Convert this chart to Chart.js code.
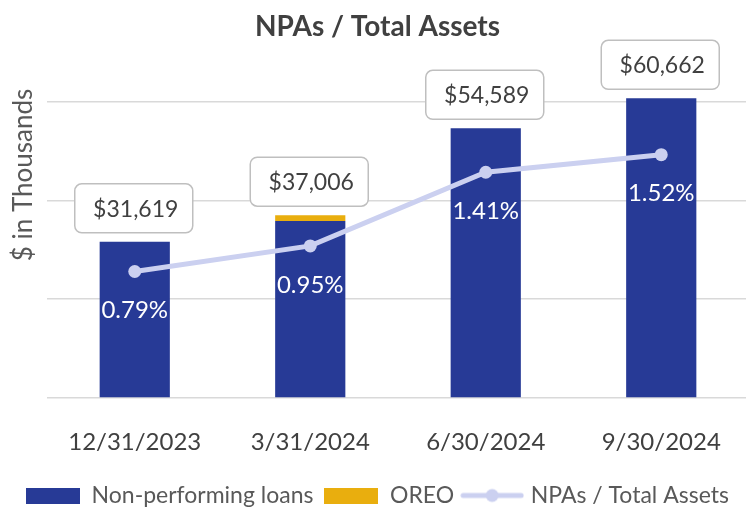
<!DOCTYPE html>
<html>
<head>
<meta charset="utf-8">
<script src="https://cdn.jsdelivr.net/npm/chart.js@4.4.1/dist/chart.umd.min.js"></script>
<style>
  html, body { margin: 0; padding: 0; overflow: hidden; background: #fff; }
  #wrap { width: 749px; height: 517px; }
</style>
</head>
<body>
<div id="wrap"><canvas id="npa-chart"></canvas></div>
<script>
const quarters = ['12/31/2023', '3/31/2024', '6/30/2024', '9/30/2024'];
const loans = [31619, 35830, 54589, 60662];
const oreo = [0, 1176, 0, 0];
const npaRatio = [0.79, 0.95, 1.41, 1.52];
const yTicks = [0, 20000, 40000, 60000];

const FONT = 'Lato, "Open Sans", sans-serif';
const BLUE = '#273a96';
const GOLD = '#e9ae0e';
const LAVENDER = '#cbd0f0';

// little pictures for the legend so the line entry gets its dot
function makeIcon(w, h, draw) {
    const c = document.createElement('canvas');
    c.width = w;
    c.height = h;
    draw(c.getContext('2d'), w, h);
    return c;
}
const icons = [
    makeIcon(54, 16, (g, w, h) => { g.fillStyle = BLUE; g.fillRect(0, 0, w, h); }),
    makeIcon(54, 16, (g, w, h) => { g.fillStyle = GOLD; g.fillRect(0, 0, w, h); }),
    makeIcon(64, 16, (g, w, h) => {
        g.strokeStyle = LAVENDER;
        g.lineWidth = 5;
        g.lineCap = 'round';
        g.beginPath();
        g.moveTo(3, h / 2);
        g.lineTo(w - 3, h / 2);
        g.stroke();
        g.fillStyle = LAVENDER;
        g.beginPath();
        g.arc(w / 2, h / 2, 6.5, 0, Math.PI * 2);
        g.fill();
    })
];

// boxed totals above the bars, percent text under the points, y axis title
const labelsPlugin = {
    id: 'labelsPlugin',
    afterDatasetsDraw(chart) {
        const ctx = chart.ctx;
        const topBars = chart.getDatasetMeta(1).data;
        const points = chart.getDatasetMeta(2).data;
        ctx.save();

        ctx.font = '24px ' + FONT;
        ctx.fillStyle = '#ffffff';
        ctx.textAlign = 'center';
        ctx.textBaseline = 'middle';
        points.forEach((pt, i) => {
            ctx.fillText(npaRatio[i].toFixed(2) + '%', pt.x, pt.y + 39);
        });

        ctx.font = '23px ' + FONT;
        topBars.forEach((bar, i) => {
            const total = loans[i] + oreo[i];
            const w = 118, h = 49;
            const x = bar.x - 1 - w / 2;
            const y = bar.y - 9 - h;
            ctx.beginPath();
            ctx.roundRect(x, y, w, h, 7);
            ctx.fillStyle = '#ffffff';
            ctx.fill();
            ctx.lineWidth = 1.5;
            ctx.strokeStyle = '#bfbfbf';
            ctx.stroke();
            ctx.fillStyle = '#404040';
            ctx.fillText('$' + total.toLocaleString('en-US'), x + w / 2 + 2, y + h / 2 + 1);
        });

        ctx.translate(24, 175);
        ctx.rotate(-Math.PI / 2);
        ctx.font = '26px ' + FONT;
        ctx.fillStyle = '#595959';
        ctx.fillText('$ in Thousands', 0, 0);
        ctx.restore();
    }
};

new Chart(document.querySelector('#npa-chart'), {
    type: 'bar',
    data: {
        labels: quarters,
        datasets: [
            {
                label: 'Non-performing loans',
                data: loans,
                backgroundColor: BLUE,
                order: 1
            },
            {
                label: 'OREO',
                data: oreo,
                backgroundColor: GOLD,
                order: 1
            },
            {
                type: 'line',
                label: 'NPAs / Total Assets',
                data: npaRatio,
                yAxisID: 'y1',
                borderColor: LAVENDER,
                backgroundColor: LAVENDER,
                borderWidth: 5,
                pointRadius: 6.5,
                pointBorderWidth: 0,
                pointBackgroundColor: LAVENDER,
                order: 0
            }
        ]
    },
    options: {
        responsive: true,
        maintainAspectRatio: false,
        animation: false,
        layout: { autoPadding: false, padding: { left: 6 } },
        datasets: {
            bar: { categoryPercentage: 1, barPercentage: 0.4 }
        },
        plugins: {
            tooltip: { enabled: false },
            title: {
                display: true,
                text: 'NPAs / Total Assets',
                color: '#404040',
                font: { family: FONT, size: 28, weight: 'bold' },
                padding: { top: 10, bottom: 8.6 }
            },
            legend: {
                position: 'bottom',
                labels: {
                    usePointStyle: true,
                    pointStyleWidth: 54,
                    boxHeight: 16,
                    padding: 11,
                    color: '#595959',
                    font: { family: FONT, size: 23 },
                    generateLabels: (chart) => chart.data.datasets.map((ds, i) => ({
                        text: ds.label,
                        pointStyle: icons[i],
                        datasetIndex: i,
                        hidden: !chart.isDatasetVisible(i),
                        fontColor: '#595959',
                        fillStyle: 'transparent',
                        strokeStyle: 'transparent',
                        lineWidth: 0
                    }))
                }
            }
        },
        scales: {
            x: {
                stacked: true,
                grid: { display: false },
                border: { display: false },
                ticks: {
                    color: '#404040',
                    padding: 22,
                    font: { family: FONT, size: 24 }
                },
                afterFit: (scale) => { scale.height = 75; }
            },
            y: {
                stacked: true,
                min: 0,
                max: 70000,
                border: { display: false },
                grid: {
                    drawTicks: false,
                    lineWidth: 1.5,
                    color: '#d9d9d9'
                },
                ticks: { display: false },
                afterBuildTicks: (scale) => { scale.ticks = yTicks.map((v) => ({ value: v })); },
                afterFit: (scale) => { scale.width = 41; }
            },
            y1: {
                display: false,
                position: 'right',
                min: 0,
                max: 2.16
            }
        }
    },
    plugins: [labelsPlugin]
});
</script>
</body>
</html>
